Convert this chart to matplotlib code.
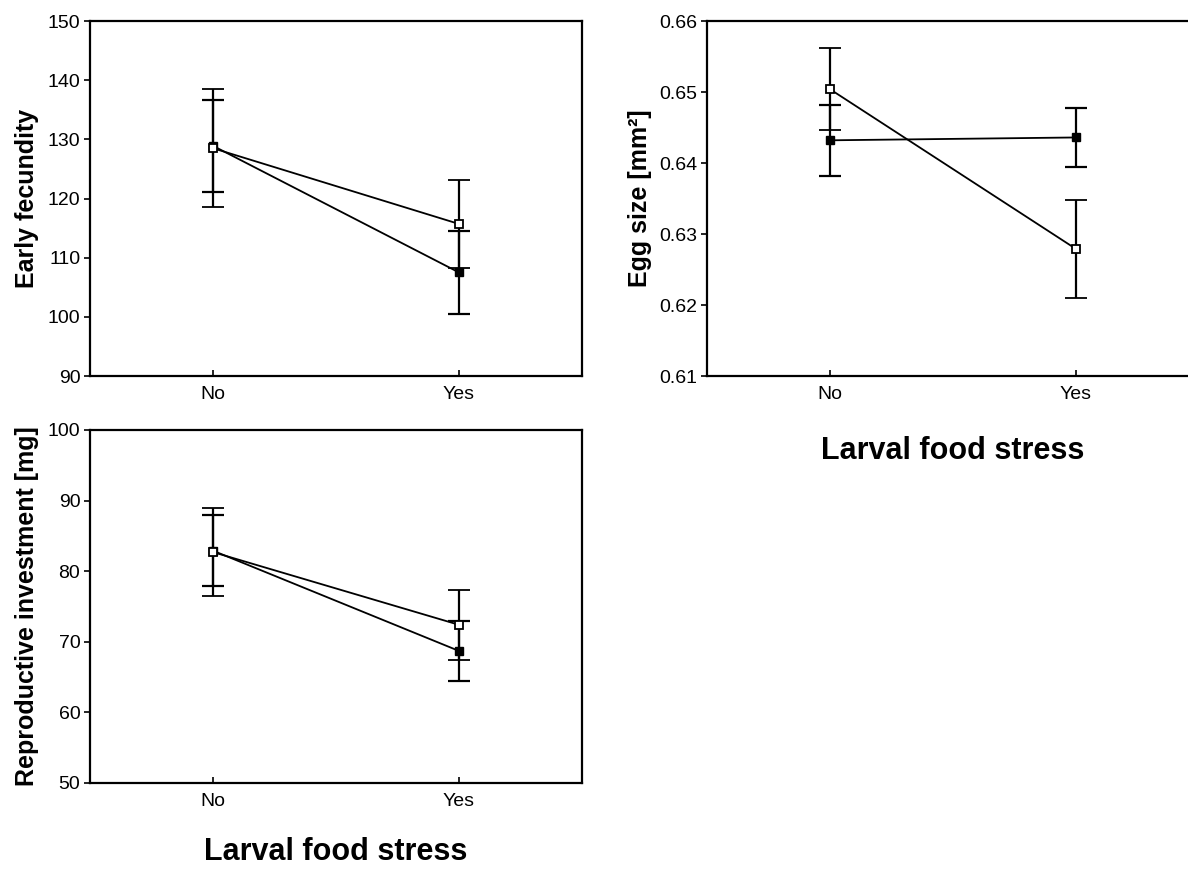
import matplotlib.pyplot as plt
import numpy as np

plt.rcParams['font.family'] = ['Liberation Sans', 'DejaVu Sans']

stress = ['No', 'Yes']

# early fecundity
fec_open = [128.5, 115.7]
fec_open_err = [9.95, 7.5]
fec_filled = [128.9, 107.5]
fec_filled_err = [7.8, 7.0]

# egg size
egg_open = [0.6504, 0.6279]
egg_open_err = [0.0058, 0.0069]
egg_filled = [0.6432, 0.6436]
egg_filled_err = [0.0050, 0.0041]

# reproductive investment
rep_open = [82.7, 72.4]
rep_open_err = [6.2, 4.95]
rep_filled = [82.9, 68.7]
rep_filled_err = [5.05, 4.3]

fig = plt.figure(figsize=(11.88, 8.69), dpi=100)

ax1 = fig.add_axes([0.0758, 0.5673, 0.4141, 0.4085])
ax2 = fig.add_axes([0.5951, 0.5673, 0.4141, 0.4085])
ax3 = fig.add_axes([0.0758, 0.0990, 0.4141, 0.4062])

x = np.arange(len(stress))


def panel(ax, op, op_err, fi, fi_err, ylim, yticks, ylabel, fmt, labx):
    ax.errorbar(x, fi, yerr=fi_err, color='black', lw=1.3, elinewidth=1.6,
                capsize=8, capthick=1.6, marker='s', ms=6,
                mfc='black', mec='black', zorder=3)
    ax.errorbar(x, op, yerr=op_err, color='black', lw=1.3, elinewidth=1.6,
                capsize=8, capthick=1.6, marker='s', ms=6,
                mfc='white', mec='black', mew=1.3, zorder=4)
    ax.set_xlim(-0.5, 1.5)
    ax.set_ylim(*ylim)
    ax.set_yticks(yticks)
    ax.set_yticklabels([fmt.format(v) for v in yticks])
    ax.set_xticks(x)
    ax.set_xticklabels(stress)
    ax.tick_params(axis='y', direction='out', length=4, width=1.2,
                   labelsize=14, pad=3)
    ax.tick_params(axis='x', direction='in', length=4, width=1.2,
                   labelsize=14, pad=7)
    ax.set_ylabel(ylabel, fontsize=18, fontweight='bold')
    ax.yaxis.set_label_coords(labx, 0.5)
    ax.yaxis.label.set_va('center')
    for s in ax.spines.values():
        s.set_linewidth(1.6)


panel(ax1, fec_open, fec_open_err, fec_filled, fec_filled_err,
      (90, 150), np.arange(90, 151, 10), 'Early fecundity', '{:.0f}', -0.128)
panel(ax2, egg_open, egg_open_err, egg_filled, egg_filled_err,
      (0.61, 0.66), np.arange(0.61, 0.6601, 0.01), 'Egg size [mm²]', '{:.2f}', -0.136)
panel(ax3, rep_open, rep_open_err, rep_filled, rep_filled_err,
      (50, 100), np.arange(50, 101, 10), 'Reproductive investment [mg]', '{:.0f}', -0.128)

fig.text(953 / 1188, 1 - 459 / 869, 'Larval food stress', fontsize=22,
         fontweight='bold', ha='center', va='baseline')
fig.text(336 / 1188, 2 / 869, 'Larval food stress', fontsize=22,
         fontweight='bold', ha='center', va='bottom')

fig.savefig('out.png', dpi=100)
